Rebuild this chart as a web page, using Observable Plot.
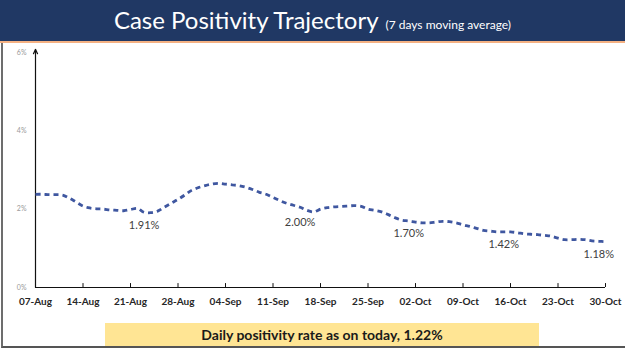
<!DOCTYPE html>
<html>
<head>
<meta charset="utf-8">
<script src="https://cdn.jsdelivr.net/npm/d3@7"></script>
<script src="https://cdn.jsdelivr.net/npm/@observablehq/plot@0.6"></script>
<style>
  html, body { margin: 0; padding: 0; background: #fff; }
  #page { position: relative; width: 625px; height: 351px; overflow: hidden; background: #fff; font-family: Lato, "Open Sans", sans-serif; }
  #titlebar { position: absolute; left: 0; top: 0; width: 625px; height: 41px; background: #203864; border-bottom: 2px solid #f4b183; }
  #title { position: absolute; left: 0; width: 625px; top: 5px; text-align: center; color: #fff; white-space: nowrap; }
  #title .main { font-size: 24px; }
  #title .sub { font-size: 12px; margin-left: 7px; }
  #frame { position: absolute; left: 1px; top: 43px; width: 624px; height: 305px; border-left: 2px solid #6d6d6d; border-bottom: 2px solid #555; box-sizing: border-box; }
  #chart { position: absolute; left: 0; top: 43px; }
  #note { position: absolute; left: 105px; top: 323px; width: 434px; height: 23px; background: #ffe594; color: #1a1a1a; font-weight: bold; font-size: 14px; line-height: 23px; text-align: center; white-space: nowrap; }
</style>
</head>
<body>
<div id="page">
  <div id="titlebar"></div>
  <div id="title"><span class="main">Case Positivity Trajectory</span><span class="sub">(7 days moving average)</span></div>
  <div id="frame"></div>
  <div id="chart"></div>
  <div id="note">Daily positivity rate as on today, 1.22%</div>
</div>
<script>
const startDate = "2020-08-07";
// daily 7-day moving average positivity (%), 07-Aug .. 30-Oct
const positivity = [
  2.38, 2.38, 2.37, 2.37, 2.36, 2.28, 2.18, 2.08, 2.03, 2.01,
  2.00, 1.98, 1.97, 1.96, 1.99, 2.02, 1.92, 1.91, 1.95, 2.05,
  2.15, 2.25, 2.36, 2.48, 2.55, 2.60, 2.64, 2.66, 2.64, 2.62,
  2.60, 2.56, 2.50, 2.43, 2.38, 2.30, 2.22, 2.15, 2.10, 2.05,
  1.97, 1.93, 2.00, 2.04, 2.06, 2.07, 2.08, 2.09, 2.07, 2.00,
  1.97, 1.93, 1.86, 1.78, 1.72, 1.70, 1.67, 1.65, 1.65, 1.67,
  1.69, 1.68, 1.65, 1.60, 1.56, 1.51, 1.46, 1.44, 1.42, 1.42,
  1.42, 1.40, 1.37, 1.36, 1.35, 1.33, 1.31, 1.26, 1.22, 1.22,
  1.23, 1.22, 1.19, 1.18, 1.17
];
const tickDates = ["2020-08-07","2020-08-14","2020-08-21","2020-08-28","2020-09-04","2020-09-11","2020-09-18","2020-09-25","2020-10-02","2020-10-09","2020-10-16","2020-10-23","2020-10-30"];
const yTicks = [0, 2, 4, 6];
const labelDates = ["2020-08-23", "2020-09-15", "2020-10-01", "2020-10-15", "2020-10-29"];
const labelValues = [1.91, 2.00, 1.70, 1.42, 1.18];

const start = new Date(startDate);
const series = positivity.map((v, i) => ({ date: d3.utcDay.offset(start, i), value: v }));
const ticks = tickDates.map(d => new Date(d));
const labels = labelDates.map((d, i) => ({ date: new Date(d), value: labelValues[i] }));
const fmtDate = d3.utcFormat("%d-%b");

const chart = Plot.plot({
  width: 625,
  height: 272,
  marginTop: 9,
  marginLeft: 35,
  marginRight: 20,
  marginBottom: 28,
  style: { fontFamily: "Lato, 'Open Sans', sans-serif", background: "transparent", overflow: "visible" },
  x: { type: "utc", domain: [ticks[0], ticks[ticks.length - 1]] },
  y: { domain: [0, 6] },
  marks: [
    Plot.axisY({ ticks: yTicks, tickSize: 0, tickPadding: 9, tickFormat: d => d + "%", fontSize: 7, color: "#9a9a9a", label: null }),
    Plot.axisX({ ticks: ticks, tickSize: 0, tickPadding: 10, tickFormat: fmtDate, fontSize: 10, fontWeight: "bold", color: "#262626", label: null }),
    Plot.ruleY([0], { stroke: "#111", strokeWidth: 1.2 }),
    Plot.ruleX(ticks, { x: d => d, y1: 0, y2: 0.1, stroke: "#111", strokeWidth: 1 }),
    Plot.arrow([0], { x1: () => ticks[0], x2: () => ticks[0], y1: 0, y2: 6.08, stroke: "#111", strokeWidth: 1.2, headLength: 6, headAngle: 50 }),
    Plot.line(series, { x: "date", y: "value", stroke: "#3f57a0", strokeWidth: 2.8, strokeDasharray: "5,4", strokeLinecap: "butt", curve: "catmull-rom" }),
    Plot.text(labels, { x: "date", y: "value", text: d => d.value.toFixed(2) + "%", dy: 13, fontSize: 11, fill: "#404040", stroke: "white", strokeWidth: 2 })
  ]
});
document.getElementById("chart").appendChild(chart);
</script>
</body>
</html>
